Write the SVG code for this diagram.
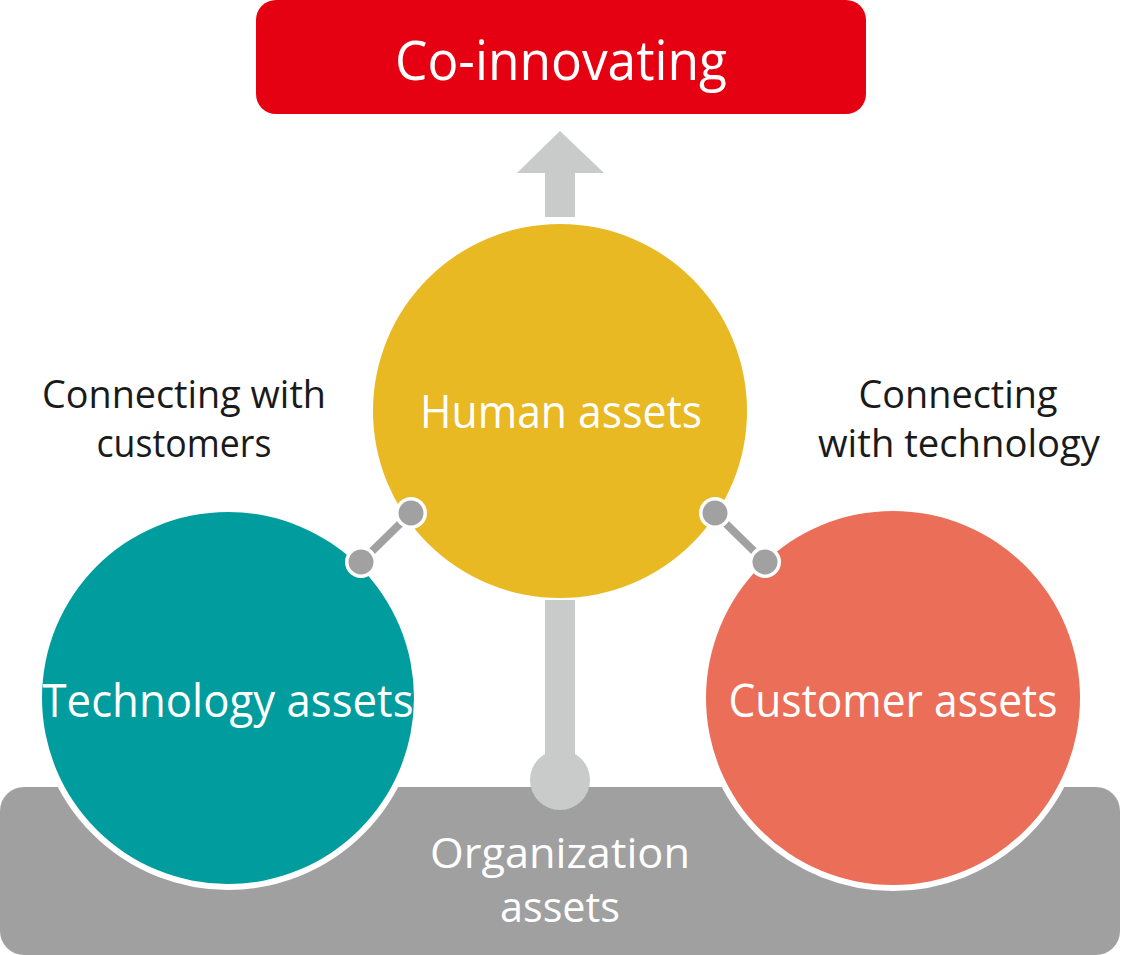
<svg xmlns="http://www.w3.org/2000/svg" width="1134" height="955" viewBox="0 0 1134 955">
<style>
.t{font-family:"Open Sans","Noto Sans","Liberation Sans",sans-serif;text-anchor:middle}
.w{fill:#ffffff}
.k{fill:#1a1a1a}
.ball{fill:#a0a1a0;stroke:#ffffff;stroke-width:7;paint-order:stroke}
.big{stroke:#ffffff;stroke-width:12;paint-order:stroke}
</style>
<rect width="1134" height="955" fill="#ffffff"/>
<g id="co-innovating">
<rect x="256" y="0" width="610" height="114" rx="20" fill="#e50012"/>
<text class="t w" x="561" y="80" font-size="55" textLength="332" lengthAdjust="spacingAndGlyphs">Co-innovating</text>
</g>
<g id="organization-assets">
<rect x="0" y="787" width="1120" height="168" rx="24" fill="#9fa09f"/>
</g>
<g id="connectors">
<polygon points="560,131 604,173 575,173 575,217 545,217 545,173 517,173" fill="#c9caca"/>
<rect x="545" y="600" width="30" height="170" fill="#c9caca"/>
<circle cx="560" cy="780" r="30" fill="#c9caca"/>
</g>
<g id="technology-assets">
<circle class="big" cx="228" cy="698" r="186" fill="#009c9e"/>
<text class="t w" x="228" y="717" font-size="45" textLength="371" lengthAdjust="spacingAndGlyphs">Technology assets</text>
</g>
<g id="customer-assets">
<circle class="big" cx="893" cy="698" r="187" fill="#eb6e58"/>
<text class="t w" x="893" y="717" font-size="45" textLength="329" lengthAdjust="spacingAndGlyphs">Customer assets</text>
</g>
<g id="human-assets">
<circle cx="560" cy="411" r="187" fill="#e8b922"/>
<text class="t w" x="561" y="428" font-size="45" textLength="282" lengthAdjust="spacingAndGlyphs">Human assets</text>
</g>
<g id="org-label">
<text class="t w" x="560" y="868" font-size="42" textLength="260" lengthAdjust="spacingAndGlyphs">Organization</text>
<text class="t w" x="560" y="922" font-size="42" textLength="120" lengthAdjust="spacingAndGlyphs">assets</text>
</g>
<g id="links">
<line x1="411" y1="513" x2="361" y2="562" stroke="#a0a1a0" stroke-width="8"/>
<circle class="ball" cx="411" cy="513" r="12.5"/>
<circle class="ball" cx="361" cy="562" r="12.5"/>
<line x1="715" y1="513" x2="765" y2="562" stroke="#a0a1a0" stroke-width="8"/>
<circle class="ball" cx="715" cy="513" r="12.5"/>
<circle class="ball" cx="765" cy="562" r="12.5"/>
</g>
<g id="labels">
<text class="t k" x="184" y="408" font-size="38" textLength="284" lengthAdjust="spacingAndGlyphs">Connecting with</text>
<text class="t k" x="184" y="457" font-size="38" textLength="175" lengthAdjust="spacingAndGlyphs">customers</text>
<text class="t k" x="958" y="408" font-size="38" textLength="199" lengthAdjust="spacingAndGlyphs">Connecting</text>
<text class="t k" x="959" y="457" font-size="38" textLength="282" lengthAdjust="spacingAndGlyphs">with technology</text>
</g>
</svg>
